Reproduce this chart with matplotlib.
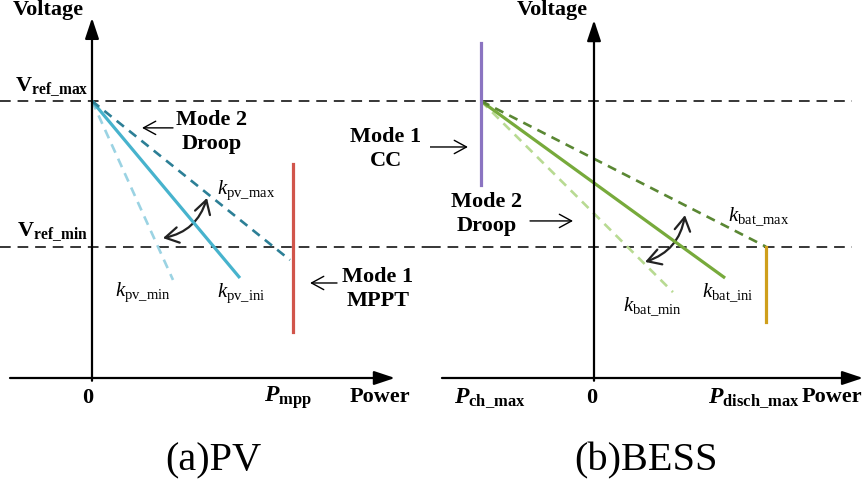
import matplotlib
matplotlib.use("Agg")
import matplotlib.pyplot as plt
from matplotlib.patches import FancyArrowPatch

plt.rcParams['font.family'] = ['Liberation Serif', 'DejaVu Serif']
plt.rcParams['mathtext.fontset'] = 'custom'
plt.rcParams['mathtext.rm'] = 'Liberation Serif'
plt.rcParams['mathtext.it'] = 'Liberation Serif:italic'
plt.rcParams['mathtext.bf'] = 'Liberation Serif:bold'
plt.rcParams['mathtext.cal'] = 'Liberation Serif:bold:italic'

# ---------------- data (normalised power / voltage units) ----------------
V_REF_MAX = 1.0
V_REF_MIN = 0.474

# PV panel: droop lines start at (0, V_ref_max)
P_MPP = 1.0
pv_names = ['min', 'ini', 'max']
pv_end_p = [0.403, 0.736, 0.985]
pv_end_v = [0.354, 0.361, 0.426]
pv_mppt_v = [0.773, 0.166]          # red MPPT segment at P_mpp

# BESS panel: droop lines start at (P_ch_max, V_ref_max)
P_CH_MAX = -0.657
P_DISCH_MAX = 1.0
bat_names = ['min', 'ini', 'max']
bat_end_p = [0.459, 0.762, 1.0]
bat_end_v = [0.310, 0.361, 0.474]
bat_cc_v = [1.209, 0.697]           # purple CC segment at P_ch_max
bat_disch_v = [0.474, 0.202]        # gold segment at P_disch_max

# ---------------- styles ----------------
pv_colors = {'min': '#9BD3E3', 'ini': '#47B3CD', 'max': '#2C7F96'}
pv_ls = {'min': (0, (3.5, 2.5)), 'ini': '-', 'max': (0, (3.5, 2.5))}
bat_colors = {'min': '#B8DA92', 'ini': '#77AA3B', 'max': '#5A8733'}
bat_ls = {'min': (0, (3.5, 2.5)), 'ini': '-', 'max': (0, (3.5, 2.5))}

fig = plt.figure(figsize=(8.67, 4.8), dpi=100)
W, H = 867.0, 480.0
ax1 = fig.add_axes([0, 0, 430 / W, 1])
ax2 = fig.add_axes([430 / W, 0, 437 / W, 1])
ax1.set_xlim(-92 / 201, 338 / 201)
ax1.set_ylim((378 - 480) / 277, 378 / 277)
ax2.set_xlim(-164 / 172, 273 / 172)
ax2.set_ylim((378 - 480) / 277, 378 / 277)
for ax in (ax1, ax2):
    ax.axis('off')

lab = dict(fontsize=16, fontweight='bold', ha='center', va='center')
klab = dict(fontsize=15, ha='left', va='center')


def axis_arrow(ax, p0, p1):
    ax.annotate('', xy=p1, xytext=p0,
                arrowprops=dict(arrowstyle='-|>,head_length=0.9,head_width=0.3',
                                lw=1.6, color='black', shrinkA=0, shrinkB=0,
                                mutation_scale=14))


def text_arrow(ax, p0, p1):
    ax.add_patch(FancyArrowPatch(p0, p1, arrowstyle='->,head_length=0.55,head_width=0.3',
                                 mutation_scale=16, lw=1.0, color='black',
                                 shrinkA=0, shrinkB=0))


def arc_arrow(ax, p0, p1):
    ax.add_patch(FancyArrowPatch(p0, p1, arrowstyle='<->,head_length=0.6,head_width=0.35',
                                 connectionstyle='arc3,rad=0.3',
                                 mutation_scale=16, lw=1.6, color='#222222',
                                 shrinkA=0, shrinkB=0))


# ================= (a) PV =================
ax = ax1
for v in (V_REF_MAX, V_REF_MIN):
    ax.plot([-92 / 201, 338 / 201], [v, v], color='black', lw=1.1,
            ls=(0, (7, 4.5)))
axis_arrow(ax, (0, -0.01), (0, 1.30))
axis_arrow(ax, (-0.408, 0), (1.507, 0))

for n, pe, ve in zip(pv_names, pv_end_p, pv_end_v):
    lw = 2.3 if n == 'ini' else 1.9
    ax.plot([0, pe], [V_REF_MAX, ve], color=pv_colors[n], ls=pv_ls[n], lw=lw,
            solid_capstyle='butt')
ax.plot([P_MPP, P_MPP], pv_mppt_v, color='#D1554B', lw=2.3)

arc_arrow(ax, (0.353, 0.505), (0.572, 0.650))

ax.text(-0.219, 1.329, 'Voltage', **lab)
ax.text(-0.02, 1.05, r'$\mathbf{V}_{\mathbf{ref\_max}}$', fontsize=16,
        ha='right', va='center')
ax.text(-0.02, 0.527, r'$\mathbf{V}_{\mathbf{ref\_min}}$', fontsize=16,
        ha='right', va='center')
ax.text(-0.02, -0.072, '0', **lab)
ax.text(0.975, -0.072, r'$\mathcal{P}_{\mathbf{mpp}}$', fontsize=17,
        ha='center', va='center')
ax.text(1.433, -0.069, 'Power', **lab)
ax.text(0.597, 0.888, 'Mode 2\nDroop', linespacing=1.3, **lab)
text_arrow(ax, (0.403, 0.903), (0.249, 0.903))
ax.text(0.622, 0.679, r'$k_{\mathrm{pv\_max}}$', **klab)
ax.text(0.114, 0.310, r'$k_{\mathrm{pv\_min}}$', **klab)
ax.text(0.622, 0.307, r'$k_{\mathrm{pv\_ini}}$', **klab)
ax.text(1.423, 0.321, 'Mode 1\nMPPT', linespacing=1.3, **lab)
text_arrow(ax, (1.219, 0.343), (1.085, 0.343))
ax.text(0.602, -0.30, '(a)PV', fontsize=29, ha='center', va='center')

# ================= (b) BESS =================
ax = ax2
for v in (V_REF_MAX, V_REF_MIN):
    ax.plot([-164 / 172, 1.5], [v, v], color='black', lw=1.1,
            ls=(0, (7, 4.5)))
axis_arrow(ax, (0, -0.01), (0, 1.292))
axis_arrow(ax, (-0.884, 0), (1.564, 0))

for n, pe, ve in zip(bat_names, bat_end_p, bat_end_v):
    lw = 2.3 if n == 'ini' else 1.9
    ax.plot([P_CH_MAX, pe], [V_REF_MAX, ve], color=bat_colors[n], ls=bat_ls[n],
            lw=lw, solid_capstyle='butt')
ax.plot([P_CH_MAX, P_CH_MAX], bat_cc_v, color='#8B74C1', lw=2.3)
ax.plot([P_DISCH_MAX, P_DISCH_MAX], bat_disch_v, color='#CF9F1C', lw=2.3)

arc_arrow(ax, (0.297, 0.419), (0.529, 0.588))

ax.text(-0.244, 1.329, 'Voltage', **lab)
ax.text(-1.209, 0.827, 'Mode 1\nCC', linespacing=1.3, **lab)
text_arrow(ax, (-1.012, 0.834), (-0.733, 0.834))
ax.text(-0.622, 0.592, 'Mode 2\nDroop', linespacing=1.3, **lab)
text_arrow(ax, (-0.372, 0.567), (-0.122, 0.567))
ax.text(0.779, 0.581, r'$k_{\mathrm{bat\_max}}$', **klab)
ax.text(0.628, 0.307, r'$k_{\mathrm{bat\_ini}}$', **klab)
ax.text(0.169, 0.256, r'$k_{\mathrm{bat\_min}}$', **klab)
ax.text(-0.605, -0.072, r'$\mathcal{P}_{\mathbf{ch\_max}}$', fontsize=17,
        ha='center', va='center')
ax.text(-0.012, -0.072, '0', **lab)
ax.text(0.930, -0.072, r'$\mathcal{P}_{\mathbf{disch\_max}}$', fontsize=17,
        ha='center', va='center')
ax.text(1.384, -0.069, 'Power', **lab)
ax.text(0.302, -0.30, '(b)BESS', fontsize=29, ha='center', va='center')

fig.savefig('out.png', dpi=100)
